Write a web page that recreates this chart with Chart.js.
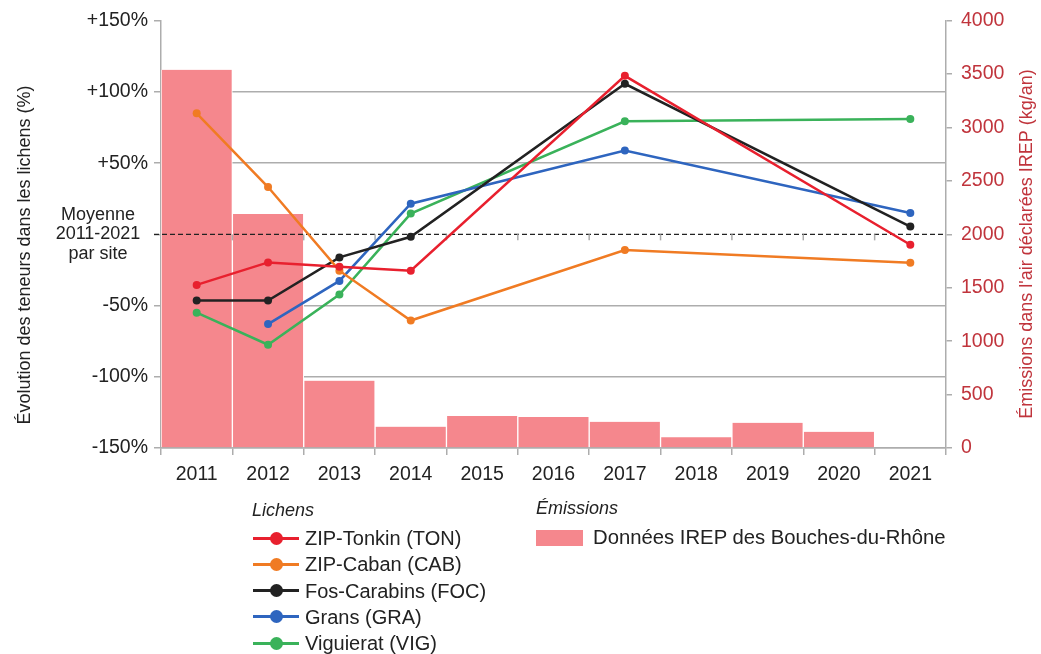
<!DOCTYPE html>
<html><head><meta charset="utf-8">
<script src="https://cdn.jsdelivr.net/npm/chart.js@4.4.0/dist/chart.umd.min.js"></script>
<style>
html,body{margin:0;padding:0;background:#fff;}
#wrap{position:relative;width:1041px;height:654px;font-family:"Liberation Sans",Arial,sans-serif;color:#222;overflow:hidden;}
#c{position:absolute;left:0;top:0;}
.lg{position:absolute;white-space:nowrap;height:26px;line-height:26px;font-size:20px;}
.ttl{font-style:italic;font-size:18px;}
.sw{position:absolute;width:46px;height:3px;}
.dot{position:absolute;width:13px;height:13px;border-radius:50%;}
.box{position:absolute;width:47px;height:16px;}
</style></head>
<body>
<div id="wrap">
<canvas id="c" width="1041" height="654"></canvas>
<div id="legend"></div>
</div>
<script>
const years = ['2011','2012','2013','2014','2015','2016','2017','2018','2019','2020','2021'];
const emissions = [3540, 2190, 630, 200, 300, 290, 245, 100, 236, 152, null];
const TON = [-35.5, -19.7, -22.7, -25.5, null, null, 111.3, null, null, null, -7.3];
const CAB = [85, 33.2, -25.5, -60.5, null, null, -11, null, null, null, -20];
const FOC = [-46.5, -46.5, -16.2, -1.7, null, null, 105.7, null, null, null, 5.5];
const GRA = [null, -63, -32.7, 21.5, null, null, 58.9, null, null, null, 15];
const VIG = [-55, -77.5, -42.3, 14.6, null, null, 79.4, null, null, null, 81];
const leftTickLabels = ['-150%','-100%','-50%','','+50%','+100%','+150%'];
const rightTickLabels = ['0','500','1000','1500','2000','2500','3000','3500','4000'];
const avgLabel = ['Moyenne','2011-2021','par site'];
const seriesNames = ['ZIP-Tonkin (TON)','ZIP-Caban (CAB)','Fos-Carabins (FOC)','Grans (GRA)','Viguierat (VIG)'];
const seriesColors = ['#e8202e','#f07b23','#222222','#2e65bf','#3ab25a'];
const barName = 'Données IREP des Bouches-du-Rhône';
const leftTitle = 'Évolution des teneurs dans les lichens (%)';
const rightTitle = "Émissions dans l'air déclarées IREP (kg/an)";

const FAM = '"Liberation Sans", Arial, sans-serif';
const GRID = '#adadad';
const RED = '#c0343c';
const BAR = '#f5878d';

const overlay = {
  id: 'overlay',
  afterDatasetDraw(chart, args) {
    if (args.meta.type !== 'bar') return;
    const ctx = chart.ctx, y = chart.scales.y, x = chart.scales.x, a = chart.chartArea;
    const y0 = y.getPixelForValue(0);
    ctx.save();
    ctx.strokeStyle = '#222'; ctx.lineWidth = 1.2; ctx.setLineDash([5, 3]);
    ctx.beginPath(); ctx.moveTo(a.left - 7, y0); ctx.lineTo(a.right, y0); ctx.stroke();
    ctx.setLineDash([]); ctx.strokeStyle = GRID; ctx.lineWidth = 1.5;
    for (let i = 1; i < years.length; i++) {
      const px = (x.getPixelForValue(i - 1) + x.getPixelForValue(i)) / 2;
      ctx.beginPath(); ctx.moveTo(px, y0); ctx.lineTo(px, y0 + 6); ctx.stroke();
    }
    ctx.restore();
  },
  afterDraw(chart) {
    const ctx = chart.ctx, y = chart.scales.y;
    const y0 = y.getPixelForValue(0);
    ctx.save();
    ctx.font = '18px ' + FAM;
    ctx.fillStyle = '#222'; ctx.textAlign = 'center'; ctx.textBaseline = 'middle';
    avgLabel.forEach((t, i) => ctx.fillText(t, 98, y0 + (i - 1) * 19.5));
    ctx.translate(25, 255); ctx.rotate(-Math.PI / 2);
    ctx.fillText(leftTitle, 0, 0);
    ctx.restore();
    ctx.save();
    ctx.font = '18px ' + FAM;
    ctx.fillStyle = RED; ctx.textAlign = 'center'; ctx.textBaseline = 'middle';
    ctx.translate(1027, 244); ctx.rotate(-Math.PI / 2);
    ctx.fillText(rightTitle, 0, 0);
    ctx.restore();
  }
};

const lineSets = [TON, CAB, FOC, GRA, VIG].map((d, i) => ({
  type: 'line', label: seriesNames[i], data: d, yAxisID: 'y', order: i,
  borderColor: seriesColors[i], backgroundColor: seriesColors[i],
  borderWidth: 2.5, pointRadius: 4, pointBorderWidth: 0, pointHoverRadius: 4,
  spanGaps: true, tension: 0
}));

new Chart(document.getElementById('c'), {
  type: 'bar',
  data: {
    labels: years,
    datasets: [{
      type: 'bar', label: barName, data: emissions, yAxisID: 'y2', order: 10,
      backgroundColor: BAR, borderColor: '#fff',
      borderWidth: {left: 1, right: 1, top: 0, bottom: 0},
      categoryPercentage: 1, barPercentage: 1
    }, ...lineSets]
  },
  options: {
    responsive: false, animation: false, devicePixelRatio: 1,
    layout: {padding: {top: 19, left: 0, right: 0, bottom: 0}},
    plugins: {legend: {display: false}, tooltip: {enabled: false}},
    events: [],
    scales: {
      x: {
        offset: true,
        grid: {offset: true, drawOnChartArea: false, color: GRID, lineWidth: 1.5, tickLength: 7},
        border: {color: GRID, width: 1.5},
        ticks: {color: '#222', font: {size: 19.5, family: FAM}, padding: 8, maxRotation: 0, autoSkip: false},
        afterFit(s) { s.height = 206; }
      },
      y: {
        position: 'left', min: -150, max: 150,
        ticks: {stepSize: 50, color: '#222', font: {size: 19.5, family: FAM}, padding: 6,
          callback: (v, i) => leftTickLabels[i]},
        grid: {
          color: c => (c.tick && (c.tick.value === 0 || c.tick.value === 150)) ? 'rgba(0,0,0,0)' : GRID,
          tickColor: GRID, lineWidth: 1.5, tickLength: 7
        },
        border: {color: GRID, width: 1.5},
        afterFit(s) { s.width = 161; }
      },
      y2: {
        position: 'right', min: 0, max: 4000,
        ticks: {stepSize: 500, color: RED, font: {size: 19.5, family: FAM}, padding: 9,
          callback: (v, i) => rightTickLabels[i]},
        grid: {drawOnChartArea: false, color: GRID, lineWidth: 1.5, tickLength: 6},
        border: {color: GRID, width: 1.5},
        afterFit(s) { s.width = 95; }
      }
    }
  },
  plugins: [overlay]
});

// HTML legend
const lg = document.getElementById('legend');
function add(html) { lg.insertAdjacentHTML('beforeend', html); }
add('<div class="lg ttl" style="left:252px;top:497px;">Lichens</div>');
seriesNames.forEach((n, i) => {
  const cy = 538 + i * 26.25;
  add(`<div class="sw" style="left:253px;top:${cy - 1.5}px;background:${seriesColors[i]}"></div>`);
  add(`<div class="dot" style="left:269.5px;top:${cy - 6.5}px;background:${seriesColors[i]}"></div>`);
  add(`<div class="lg" style="left:305px;top:${cy - 13}px;">${n}</div>`);
});
add('<div class="lg ttl" style="left:536px;top:495px;">Émissions</div>');
add(`<div class="box" style="left:536px;top:530px;background:${BAR}"></div>`);
add(`<div class="lg" style="left:593px;top:524px;font-size:20.3px;">${barName}</div>`);
</script>
</body></html>
